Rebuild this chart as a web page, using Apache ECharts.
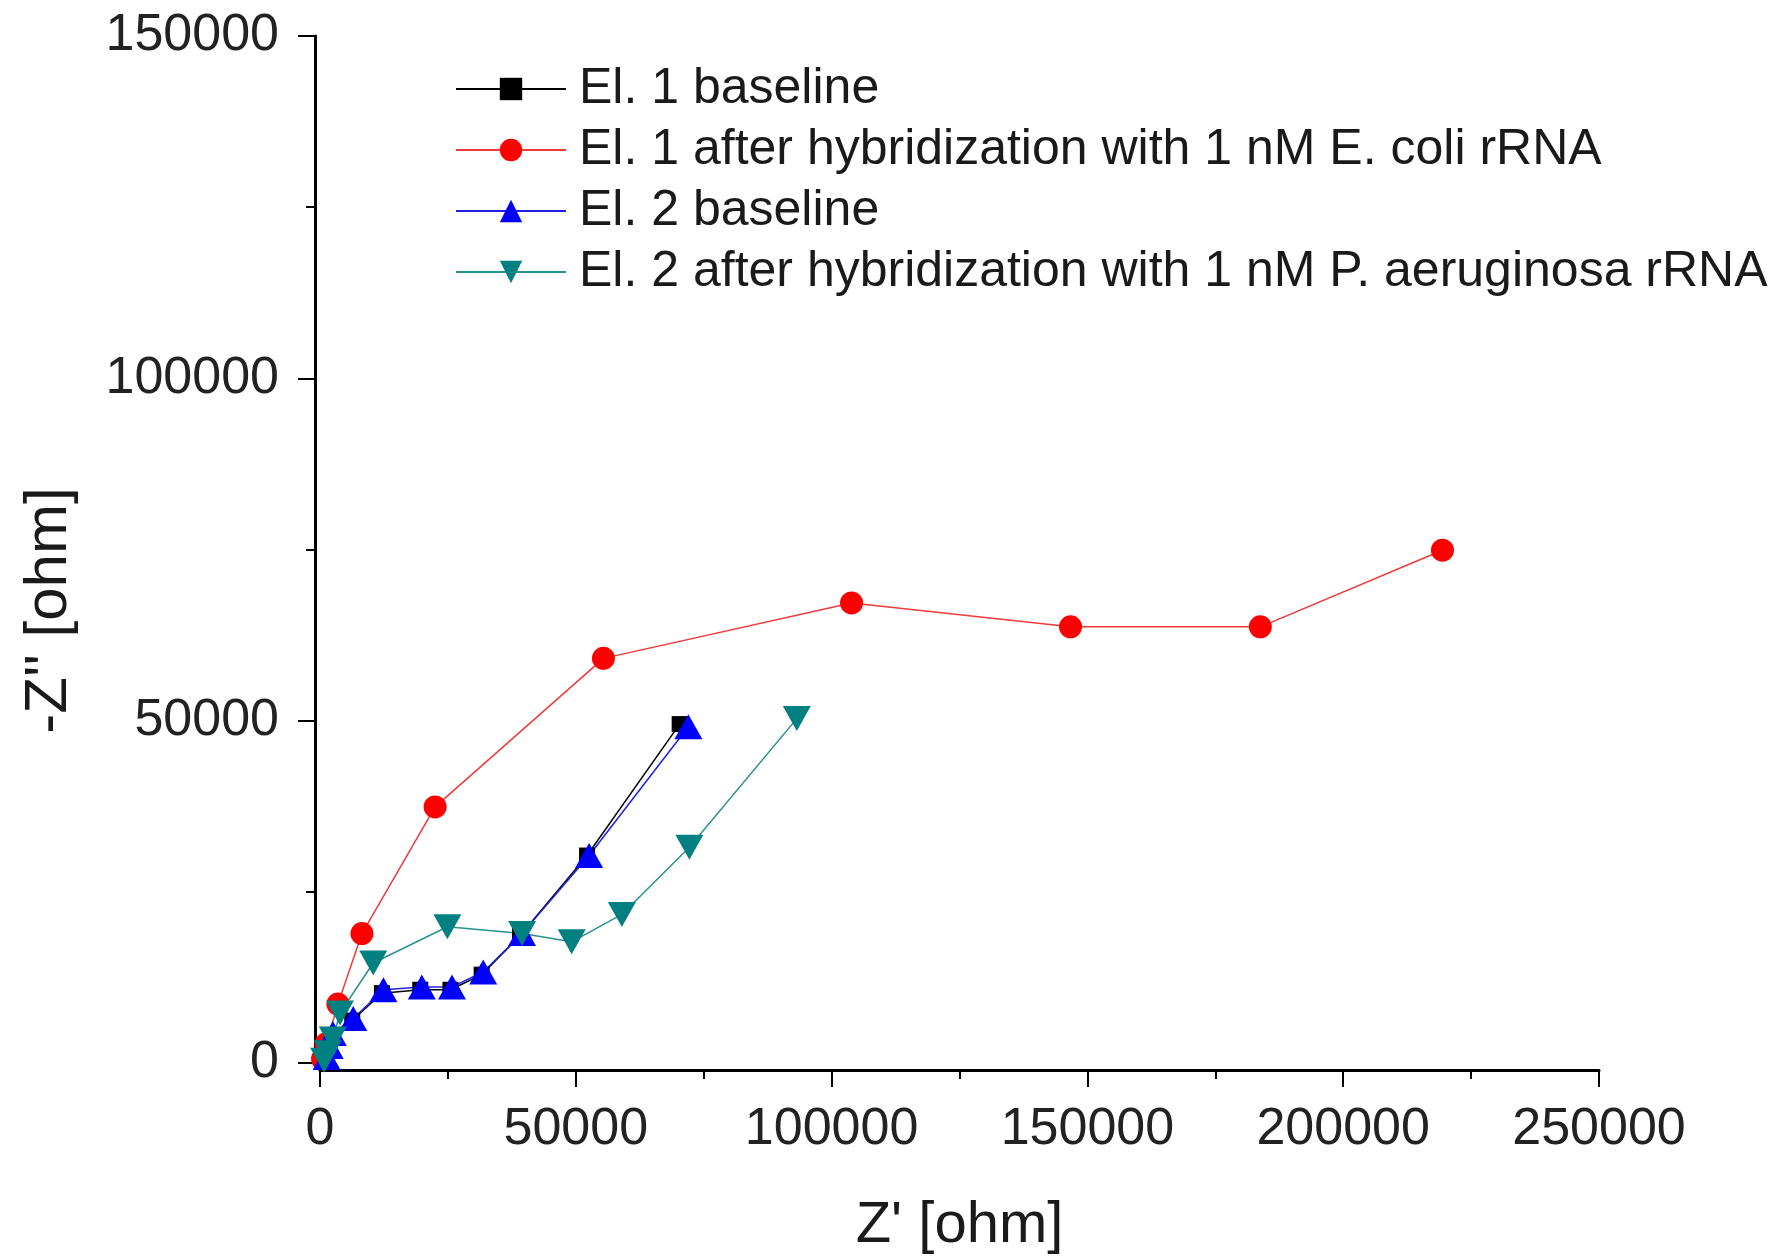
<!DOCTYPE html>
<html>
<head>
<meta charset="utf-8">
<script src="https://cdn.jsdelivr.net/npm/echarts@6/dist/echarts.min.js"></script>
<style>
html,body{margin:0;padding:0;background:#fff;}
#chart{width:1783px;height:1259px;}
</style>
</head>
<body>
<div id="chart"></div>
<script>
// Nyquist data [Z', -Z''] in ohm
const seriesNames = [
  'El. 1 baseline',
  'El. 1 after hybridization with 1 nM E. coli rRNA',
  'El. 2 baseline',
  'El. 2 after hybridization with 1 nM P. aeruginosa rRNA'
];
const el1Baseline = [[1200,700],[1800,2200],[2400,4100],[6300,6200],[12100,10200],[19600,10700],[25500,10700],[31600,12900],[39100,18600],[52200,30300],[70300,49500]];
const el1Hybrid = [[500,600],[1200,2800],[3500,8600],[8200,18900],[22500,37400],[55400,59100],[103900,67200],[146700,63700],[183800,63700],[219400,74900]];
const el2Baseline = [[1300,800],[1900,2400],[2500,4300],[6500,6500],[12400,10700],[19900,11100],[25800,11100],[31900,13300],[39500,18900],[52600,30300],[72000,49100]];
const el2Hybrid = [[800,400],[1500,1500],[2500,3500],[3900,7300],[10400,14600],[24900,19900],[39500,18900],[49200,17700],[59000,21700],[72200,31500],[93200,50300]];
const xTicks = [0, 50000, 100000, 150000, 200000, 250000];
const yTicks = [0, 50000, 100000, 150000];

const chart = echarts.init(document.getElementById('chart'), null, {renderer: 'canvas'});
const font = 'Liberation Sans, Arial, sans-serif';
const axisCommon = {
  type: 'value',
  splitLine: {show: false},
  axisLine: {show: true, onZero: false, lineStyle: {color: '#000', width: 3}},
  axisTick: {show: true, inside: false, length: 17, lineStyle: {color: '#000', width: 2}},
  minorTick: {show: true, splitNumber: 2, length: 9, lineStyle: {color: '#000', width: 2}},
  minorSplitLine: {show: false},
  nameTextStyle: {fontFamily: font, fontSize: 58, color: '#1a1a1a'}
};
function mk(name, data, symbol, size, color, lineColor, rotate) {
  return {
    name: name, type: 'line', data: data,
    symbol: symbol, symbolSize: size, symbolRotate: rotate || 0,
    showAllSymbol: true,
    itemStyle: {color: color},
    lineStyle: {color: lineColor, width: 1.5},
    emphasis: {disabled: true},
    z: 2
  };
}
chart.setOption({
  animation: false,
  backgroundColor: '#fff',
  grid: {left: 320, right: 184, top: 36, bottom: 196, containLabel: false, outerBoundsMode: 'none'},
  legend: {
    orient: 'vertical', left: 455, top: 64, padding: 0,
    itemWidth: 110, itemHeight: 28, itemGap: 11,
    textStyle: {fontFamily: font, fontSize: 50, color: '#1a1a1a', lineHeight: 50, padding: [0,0,0,8]},
    data: seriesNames
  },
  xAxis: Object.assign({}, axisCommon, {
    min: xTicks[0], max: xTicks[xTicks.length-1], interval: 50000, offset: 7,
    name: "Z' [ohm]", nameLocation: 'middle', nameGap: 127,
    axisLabel: {fontFamily: font, fontSize: 52, color: '#222', margin: 34, formatter: v => String(v)}
  }),
  yAxis: Object.assign({}, axisCommon, {
    min: yTicks[0], max: yTicks[yTicks.length-1], interval: 50000, offset: 5,
    name: '-Z\'\' [ohm]', nameLocation: 'middle', nameGap: 236,
    nameTextStyle: {fontFamily: font, fontSize: 60, color: '#1a1a1a', padding: [0, 122, 0, 0]},
    axisLabel: {fontFamily: font, fontSize: 52, color: '#222', margin: 36, formatter: v => String(v)}
  }),
  series: [
    mk(seriesNames[0], el1Baseline, 'rect', 16, '#000000', '#000000'),
    mk(seriesNames[1], el1Hybrid, 'circle', 23, '#ff0000', '#f03a3a'),
    mk(seriesNames[2], el2Baseline, 'triangle', [28, 25], '#0000ff', '#2020e0'),
    mk(seriesNames[3], el2Hybrid, 'triangle', [28, 25], '#008080', '#2a9090', 180)
  ]
});
</script>
</body>
</html>
